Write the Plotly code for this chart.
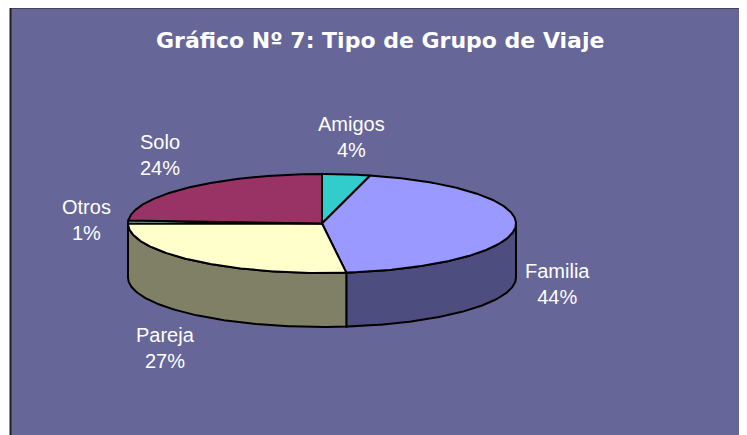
import numpy as np
import plotly.graph_objects as go

# ---- data ----
categories = ["Amigos", "Familia", "Pareja", "Otros", "Solo"]
percentages = [4, 44, 27, 1, 24]
top_colors = ["#33CCCC", "#9999FF", "#FFFFCC", "#CCFFFF", "#993366"]
side_colors = ["#1A6666", "#4D4D80", "#808066", "#668080", "#4D1A33"]
title_text = "Gráfico Nº 7: Tipo de Grupo de Viaje"

# ---- geometry (styling) ----
W, H = 747, 435
OFF = 8                  # page body margin
cx, cy = 322, 223.5      # centre of top face
rx, ry = 194, 49.5       # ellipse radii
depth = 54               # thickness of the pie
lab_rx, lab_ry = 236, 85 # label ellipse
lab_k = 14               # extra offset for diagonal labels
bg = "#666699"


def pt(t_deg, dy=0.0):
    t = np.radians(t_deg)
    return cx + rx * np.sin(t), cy - ry * np.cos(t) + dy


fig = go.Figure()

total = sum(percentages)
bounds = np.concatenate([[0], np.cumsum(percentages)]) / total * 360.0

# side walls (visible front half: 90..270 deg clockwise from top)
for i, cat in enumerate(categories):
    a0, a1 = max(bounds[i], 90), min(bounds[i + 1], 270)
    if a1 <= a0:
        continue
    ts = np.linspace(a0, a1, 120)
    xt, yt = pt(ts)
    xb, yb = pt(ts[::-1], depth)
    xs = np.concatenate([xt, xb, xt[:1]])
    ys = np.concatenate([yt, yb, yt[:1]])
    fig.add_trace(go.Scatter(x=xs, y=ys, mode="lines", fill="toself",
                             fillcolor=side_colors[i],
                             line=dict(color="black", width=2),
                             hoverinfo="skip", showlegend=False))

# top faces
for i, cat in enumerate(categories):
    ts = np.linspace(bounds[i], bounds[i + 1], max(4, int(percentages[i] * 6)))
    xa, ya = pt(ts)
    xs = np.concatenate([[cx], xa, [cx]])
    ys = np.concatenate([[cy], ya, [cy]])
    fig.add_trace(go.Scatter(x=xs, y=ys, mode="lines", fill="toself",
                             fillcolor=top_colors[i],
                             line=dict(color="black", width=2),
                             hoverinfo="skip", showlegend=False,
                             name=cat))

# labels
for i, cat in enumerate(categories):
    m = np.radians((bounds[i] + bounds[i + 1]) / 2)
    s, c = np.sin(m), np.cos(m)
    lx = cx + lab_rx * s
    ly = cy - lab_ry * c - lab_k * c * abs(s) + (depth if c < 0 else 0)
    fig.add_annotation(x=lx, y=ly, text=f"{cat}<br>{percentages[i]}%",
                       showarrow=False, xanchor="center", yanchor="middle",
                       font=dict(family="Liberation Sans, Arial", size=20, color="white"))

fig.add_annotation(x=380, y=40, text=f"<b>{title_text}</b>", showarrow=False,
                   xanchor="center", yanchor="middle",
                   font=dict(family="DejaVu Sans", size=22, color="white"))

fig.add_shape(type="rect", x0=10.5, y0=7.5, x1=W + 20, y1=H + 20,
              fillcolor=bg, line=dict(color="#202020", width=2), layer="below")

fig.update_layout(
    width=W, height=H,
    margin=dict(l=0, r=0, t=0, b=0),
    paper_bgcolor="white", plot_bgcolor="rgba(0,0,0,0)",
    xaxis=dict(range=[OFF, W + OFF], visible=False, fixedrange=True),
    yaxis=dict(range=[H + OFF, OFF], visible=False, fixedrange=True),
)

fig.write_html("out.html")
